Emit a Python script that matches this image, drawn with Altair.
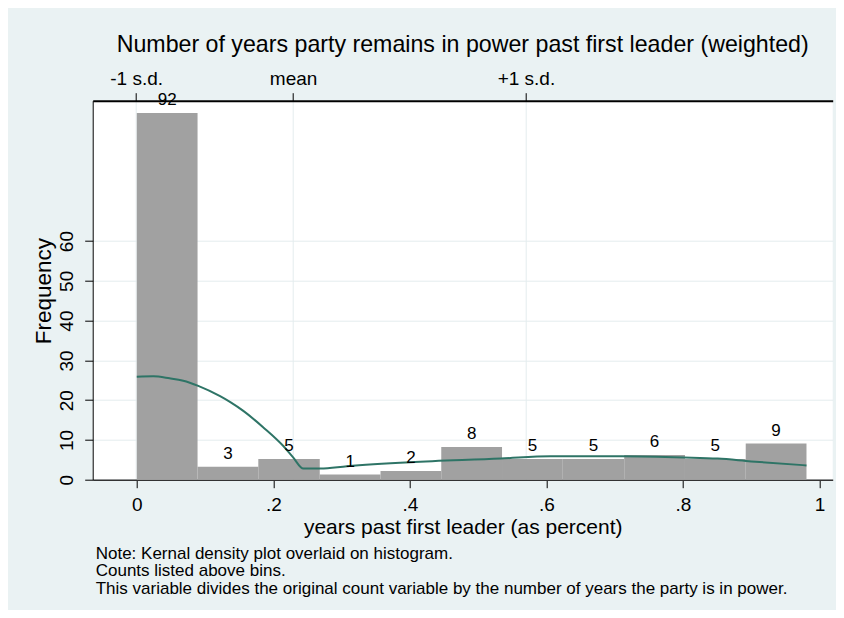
import altair as alt
import pandas as pd

FONT = "Liberation Sans"

# ---- data ----
bin_edges = [0.0, 0.089, 0.178, 0.268, 0.357, 0.446, 0.535, 0.624, 0.714, 0.803, 0.892, 0.981]
bin_heights = [92.2, 3.25, 5.2, 1.3, 2.2, 8.25, 5.2, 5.2, 6.2, 5.2, 9.1]
bin_labels = ["92", "3", "5", "1", "2", "8", "5", "5", "6", "5", "9"]

kde_x = [0.0, 0.024, 0.048, 0.068, 0.090, 0.122, 0.137, 0.156, 0.185, 0.215, 0.229, 0.244,
         0.269, 0.308, 0.401, 0.533, 0.606, 0.711, 0.802, 0.851, 0.900, 0.981]
kde_y = [25.9, 26.0, 25.5, 24.9, 23.6, 21.0, 19.5, 17.3, 13.2, 8.4, 5.6, 2.8,
         2.8, 3.4, 4.4, 5.3, 5.9, 5.9, 5.6, 5.3, 4.6, 3.6]

marker_values = [-0.001, 0.229, 0.570]
marker_labels = ["-1 s.d.", "mean", "+1 s.d."]

x_ticks = [0, 0.2, 0.4, 0.6, 0.8, 1.0]
x_tick_labels = ["0", ".2", ".4", ".6", ".8", "1"]
y_ticks = [0, 10, 20, 30, 40, 50, 60]

title_text = "Number of years party remains in power past first leader (weighted)"
x_title = "years past first leader (as percent)"
y_title = "Frequency"
note_lines = [
    "Note: Kernal density plot overlaid on histogram.",
    "Counts listed above bins.",
    "This variable divides the original count variable by the number of years the party is in power.",
]


def label_expr(values, labels):
    expr = "''"
    for v, l in reversed(list(zip(values, labels))):
        expr = f"abs(datum.value - ({v})) < 1e-6 ? '{l}' : {expr}"
    return expr


bins_df = pd.DataFrame({
    "x0": bin_edges[:-1],
    "x1": bin_edges[1:],
    "freq": bin_heights,
    "label": bin_labels,
})
kde_df = pd.DataFrame({"x": kde_x, "freq": kde_y})
marker_df = pd.DataFrame({"mv": marker_values, "ml": marker_labels})
note_df = pd.DataFrame({"note": ["\n".join(note_lines)]})

xscale = alt.Scale(domain=[-0.0646, 1.0194], nice=False, zero=False)
yscale = alt.Scale(domain=[0, 95.3], nice=False, zero=False)

BAR = "#a1a1a1"
LINE = "#2e7466"
GRID = "#e4ecee"

y_axis = alt.Axis(
    orient="left", values=y_ticks, title=y_title, grid=True, gridColor=GRID, gridWidth=1,
    tickSize=8, tickColor="black", domainColor="black", domainWidth=1,
    labelFont=FONT, labelFontSize=19, labelColor="black", labelAngle=270,
    labelAlign="center", labelBaseline="alphabetic", labelPadding=12, labelFlush=False,
    titleFont=FONT, titleFontSize=22.5, titleFontWeight="normal", titleColor="black",
    titleAngle=270, titleBaseline="alphabetic", titleAlign="center",
    titleX=-42, titleY=190,
)

bars = alt.Chart(bins_df).mark_rect(color=BAR).encode(
    x=alt.X("x0:Q", scale=xscale, axis=alt.Axis(
        orient="bottom", values=x_ticks, labelExpr=label_expr(x_ticks, x_tick_labels),
        title=x_title, grid=False, tickSize=8, tickColor="black", domainColor="#333333",
        domainWidth=1.5, labelFont=FONT, labelFontSize=19, labelColor="black",
        labelBaseline="alphabetic", labelPadding=23, labelFlush=False,
        titleFont=FONT, titleFontSize=21, titleFontWeight="normal", titleColor="black",
        titleBaseline="alphabetic", titleX=370, titleY=54, titleAlign="center")),
    x2="x1:Q",
    y=alt.Y("freq:Q", scale=yscale, axis=y_axis),
    y2=alt.datum(0),
)

labels = alt.Chart(bins_df).transform_calculate(
    xc="(datum.x0 + datum.x1) / 2"
).mark_text(font=FONT, fontSize=17, color="black", baseline="alphabetic", dy=-8).encode(
    x=alt.X("xc:Q", scale=xscale, axis=None),
    y=alt.Y("freq:Q", scale=yscale, axis=y_axis),
    text="label:N",
)

kde = alt.Chart(kde_df).mark_line(color=LINE, strokeWidth=2, interpolate="monotone").encode(
    x=alt.X("x:Q", scale=xscale, axis=None),
    y=alt.Y("freq:Q", scale=yscale, axis=y_axis),
)

top_axis = alt.Chart(marker_df).mark_point(opacity=0).encode(
    x=alt.X("mv:Q", scale=xscale, axis=alt.Axis(
        orient="top", values=marker_values, labelExpr=label_expr(marker_values, marker_labels),
        title=None, grid=True, gridColor=GRID, gridWidth=1, tickSize=8, tickColor="black",
        domainColor="black", domainWidth=2, labelFont=FONT, labelFontSize=19,
        labelColor="black", labelBaseline="alphabetic", labelPadding=8, labelFlush=False)),
)

notes = alt.Chart(note_df).mark_text(
    font=FONT, fontSize=17, color="black", align="left", baseline="alphabetic",
    lineBreak="\n", lineHeight=17.2,
).encode(
    x=alt.value(3),
    y=alt.value(458.5),
    text="note:N",
)

chart = alt.layer(top_axis, bars, kde, labels, notes).resolve_axis(
    x="independent"
).properties(
    width=740,
    height=379,
    background="#eaf2f3",
    padding={"left": 84.7, "top": 92.7, "right": 3.3, "bottom": 130.3},
    autosize=alt.AutoSizeParams(type="none"),
    title=alt.TitleParams(
        text=title_text, font=FONT, fontSize=23.2, fontWeight="normal", color="black",
        anchor="middle", frame="group", baseline="alphabetic", offset=-6,
    ),
).configure_view(stroke=None, fill="white")

chart.save("out.html", embed_options={"renderer": "svg", "actions": False})
